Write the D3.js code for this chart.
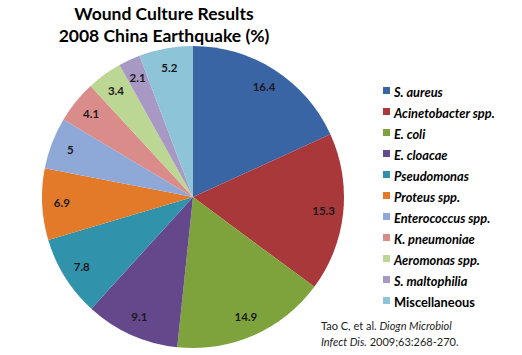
<!DOCTYPE html>
<html>
<head>
<meta charset="utf-8">
<script src="https://cdn.jsdelivr.net/npm/d3@7"></script>
<style>
  body { margin: 0; background: #fff; }
  svg { font-family: Lato, "Open Sans", sans-serif; }
</style>
</head>
<body>
<svg id="chart" width="522" height="355"></svg>
<script>
// wound culture data, percent
const organisms = ['S. aureus', 'Acinetobacter spp.', 'E. coli', 'E. cloacae', 'Pseudomonas',
    'Proteus spp.', 'Enterococcus spp.', 'K. pneumoniae', 'Aeromonas spp.', 'S. maltophilia', 'Miscellaneous']
const percents = [16.4, 15.3, 14.9, 9.1, 7.8, 6.9, 5, 4.1, 3.4, 2.1, 5.2]
const sliceColors = ['#3a65a5', '#a8383a', '#7ea23c', '#65478c', '#3192ab', '#e27a2a',
    '#8ea9d8', '#d98c8a', '#bcd693', '#a899c4', '#8dc4d8']
const italicNames = [true, true, true, true, true, true, true, true, true, true, false]
const titleLines = ['Wound Culture Results', '2008 China Earthquake (%)']

const svg = d3.select('#chart')
const cx = 193, cy = 197, radius = 151

const data = organisms.map((name, i) => ({ name: name, value: percents[i], color: sliceColors[i], italic: italicNames[i] }))

const pie = d3.pie().sort(null).value(d => d.value)
const arc = d3.arc().innerRadius(0).outerRadius(radius)
const labelArc = d3.arc().innerRadius(radius * 0.87).outerRadius(radius * 0.87)

const g = svg.append('g').attr('transform', `translate(${cx},${cy})`)

const slices = g.selectAll('g.slice')
    .data(pie(data))
    .join('g')
    .attr('class', 'slice')

slices.append('path')
    .attr('d', arc)
    .attr('fill', d => d.data.color)

slices.append('text')
    .attr('transform', d => `translate(${labelArc.centroid(d)})`)
    .attr('text-anchor', 'middle')
    .attr('dy', '0.35em')
    .style('font-size', '11.5px')
    .style('font-weight', 'bold')
    .style('fill', '#1a1a1a')
    .text(d => d.data.value)

// title
svg.append('text')
    .attr('text-anchor', 'middle')
    .style('font-size', '17.5px')
    .style('font-weight', 'bold')
    .selectAll('tspan')
    .data(titleLines)
    .join('tspan')
    .attr('x', 164)
    .attr('y', (d, i) => 20 + i * 22)
    .text(d => d)

// legend
const legend = svg.append('g').attr('transform', 'translate(383,93)')
const rows = legend.selectAll('g')
    .data(data)
    .join('g')
    .attr('transform', (d, i) => `translate(0,${i * 21})`)

rows.append('rect')
    .attr('x', 0)
    .attr('y', -6)
    .attr('width', 7)
    .attr('height', 7)
    .attr('fill', d => d.color)

rows.append('text')
    .attr('x', 11)
    .attr('y', 0)
    .attr('dy', '0.3em')
    .style('font-size', '12.8px')
    .style('font-weight', 'bold')
    .style('font-style', d => d.italic ? 'italic' : 'normal')
    .text(d => d.name)

// citation
const cite = svg.append('text')
    .style('font-size', '11px')
    .style('fill', '#222')
cite.append('tspan').attr('x', 321).attr('y', 330).text('Tao C, et al. ')
cite.append('tspan').style('font-style', 'italic').text('Diogn Microbiol')
cite.append('tspan').attr('x', 321).attr('y', 346).style('font-style', 'italic').text('Infect Dis.')
cite.append('tspan').text(' 2009;63:268-270.')
</script>
</body>
</html>
